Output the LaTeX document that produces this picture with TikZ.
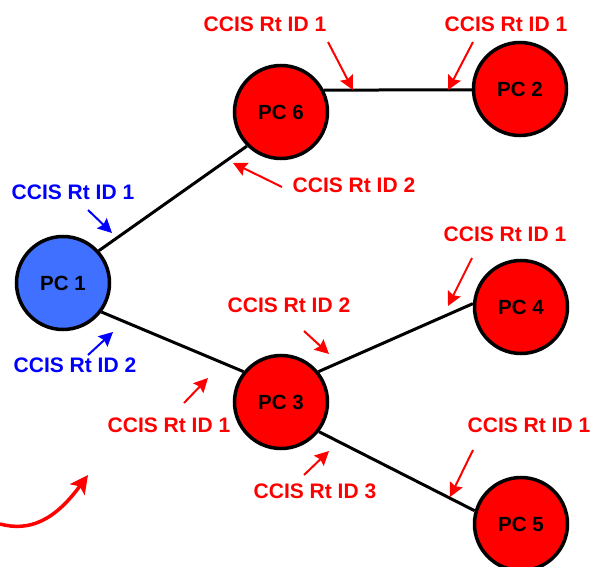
\documentclass[tikz,border=0pt]{standalone}
\usepackage{fontspec}
\setmainfont{Liberation Sans}
\usetikzlibrary{arrows.meta}
\definecolor{pcblue}{RGB}{64,112,255}
\definecolor{lblblue}{RGB}{0,0,255}
\definecolor{lblred}{RGB}{255,0,0}
\tikzset{
  pc/.style={circle, draw=black, line width=3.5pt, minimum size=93pt, inner sep=0pt,
    font=\fontsize{20.5}{24}\selectfont\bfseries},
  pcred/.style={pc, fill=lblred},
  pcb/.style={pc, fill=pcblue},
  link/.style={line width=3pt, black},
  lbl/.style={font=\fontsize{21}{25}\selectfont\bfseries, inner sep=0pt},
  rlbl/.style={lbl, text=lblred},
  blbl/.style={lbl, text=lblblue},
  ptr/.style={line width=2pt, -{Stealth[length=14pt,width=14pt,inset=2pt]}},
  rptr/.style={ptr, lblred},
  bptr/.style={ptr, lblblue},
}
\begin{document}
\begin{tikzpicture}[x=1pt,y=-1pt]
\useasboundingbox (0,0) rectangle (595,567);
% nodes
\node[pcb]   (pc1) at (63,283)  {PC 1};
\node[pcred] (pc6) at (281,112) {PC 6};
\node[pcred] (pc2) at (520,89)  {PC 2};
\node[pcred] (pc3) at (281,402) {PC 3};
\node[pcred] (pc4) at (521,307) {PC 4};
\node[pcred] (pc5) at (521,524) {PC 5};
% links
\draw[link] (pc1.42) -- (pc6.225);
\draw[link] (pc1.-37) -- (pc3.141);
\draw[link] (pc6.27) -- (pc2.181);
\draw[link] (pc3.39) -- (pc4.176);
\draw[link] (pc3.-38) -- (pc5.164);
% labels
\node[blbl] (b1) at (73,192) {CCIS Rt ID 1};
\node[blbl] (b2) at (75,365) {CCIS Rt ID 2};
\node[rlbl] (t1) at (265,24) {CCIS Rt ID 1};
\node[rlbl] (t2) at (506,24) {CCIS Rt ID 1};
\node[rlbl] (r6) at (354,185) {CCIS Rt ID 2};
\node[rlbl] (a3) at (289,305) {CCIS Rt ID 2};
\node[rlbl] (l3) at (169,425) {CCIS Rt ID 1};
\node[rlbl] (d3) at (315,491) {CCIS Rt ID 3};
\node[rlbl] (a4) at (505,234) {CCIS Rt ID 1};
\node[rlbl] (a5) at (529,425) {CCIS Rt ID 1};
% pointer coordinates
\coordinate (b1s) at (88,210);  \coordinate (b1e) at (112,233);
\coordinate (b2s) at (88,355);  \coordinate (b2e) at (113,332);
\coordinate (t1s) at (328,42);  \coordinate (t1e) at (353,90);
\coordinate (t2s) at (473,42);  \coordinate (t2e) at (448,90);
\coordinate (r6s) at (282,187); \coordinate (r6e) at (233,163);
\coordinate (a3s) at (304,331); \coordinate (a3e) at (329,354);
\coordinate (l3s) at (184,403); \coordinate (l3e) at (208,378);
\coordinate (d3s) at (304,475); \coordinate (d3e) at (329,451);
\coordinate (a4s) at (472,258); \coordinate (a4e) at (448,306);
\coordinate (a5s) at (473,450); \coordinate (a5e) at (450,497);
\draw[bptr] (b1s) -- (b1e);
\draw[bptr] (b2s) -- (b2e);
\draw[rptr] (t1s) -- (t1e);
\draw[rptr] (t2s) -- (t2e);
\draw[rptr] (r6s) -- (r6e);
\draw[rptr] (a3s) -- (a3e);
\draw[rptr] (l3s) -- (l3e);
\draw[rptr] (d3s) -- (d3e);
\draw[rptr] (a4s) -- (a4e);
\draw[rptr] (a5s) -- (a5e);
% curved arrow bottom-left
\coordinate (cs) at (0,524);
\coordinate (ce) at (88,475);
\draw[line width=3.5pt, lblred, -{Stealth[length=18pt,width=18pt,inset=4pt]}]
  (cs) .. controls (30,532) and (55,520) .. (ce);
\end{tikzpicture}
\end{document}
